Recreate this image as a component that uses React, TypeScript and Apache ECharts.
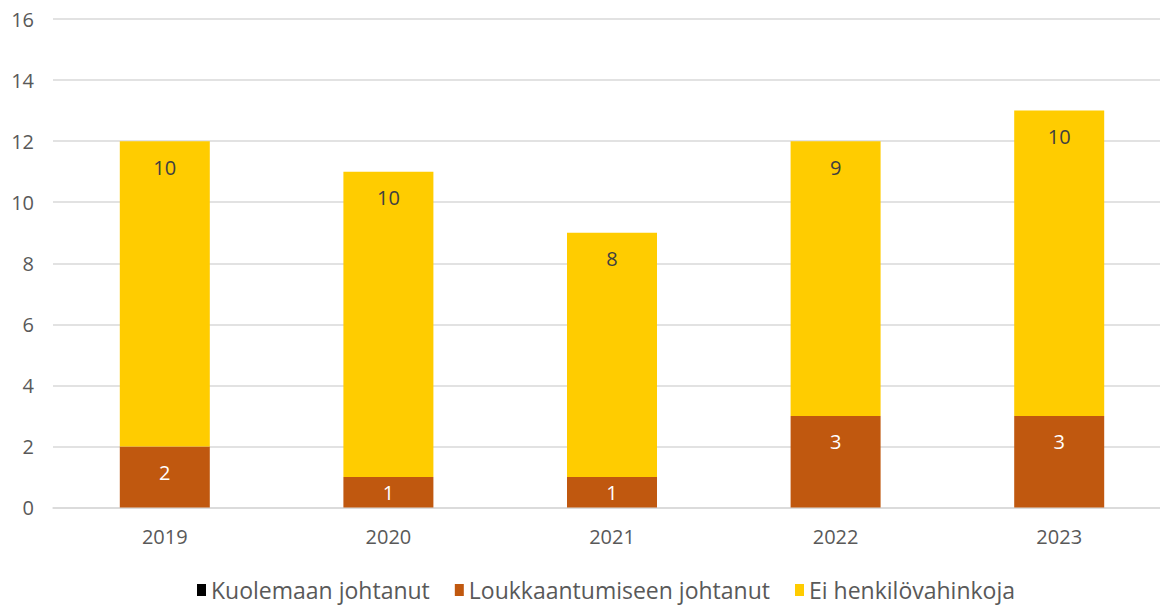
import React, { useEffect, useRef } from "react";
import * as echarts from "echarts";

const years = ["2019", "2020", "2021", "2022", "2023"];
const kuolemaan = [0, 0, 0, 0, 0];
const loukkaantumiseen = [2, 1, 1, 3, 3];
const eiHenkilo = [10, 10, 8, 9, 10];
const seriesNames = ["Kuolemaan johtanut", "Loukkaantumiseen johtanut", "Ei henkilövahinkoja"];

const FONT = "'Open Sans', sans-serif";

export default function App() {
  const ref = useRef<HTMLDivElement>(null);
  useEffect(() => {
    if (!ref.current) return;
    const chart = echarts.init(ref.current, undefined, { renderer: "svg" });
    const labelFor = (v: number, color: string) => ({
      show: true,
      position: v >= 2 ? "insideTop" : "inside",
      distance: 16,
      color,
      fontSize: 20,
      fontFamily: FONT,
    });
    chart.setOption({
      animation: false,
      backgroundColor: "#ffffff",
      textStyle: { fontFamily: FONT },
      grid: { left: 53, right: 0, top: 19, bottom: 97.5, containLabel: false },
      legend: {
        data: seriesNames,
        left: 197,
        top: 577,
        padding: 0,
        itemWidth: 9,
        itemHeight: 12,
        itemGap: 25,
        icon: "rect",
        textStyle: { fontSize: 23, lineHeight: 26, color: "#595959", fontFamily: FONT, padding: [0, 0, 0, 0] },
      },
      xAxis: {
        type: "category",
        data: years,
        axisLine: { show: true, lineStyle: { color: "#D9D9D9", width: 1.5 } },
        axisTick: { show: false },
        axisLabel: { color: "#595959", fontSize: 20, margin: 19, fontFamily: FONT },
      },
      yAxis: {
        type: "value",
        min: 0,
        max: 16,
        interval: 2,
        axisLine: { show: false },
        axisTick: { show: false },
        splitLine: { lineStyle: { color: "#D9D9D9", width: 1.5 } },
        axisLabel: { color: "#595959", fontSize: 20, margin: 19, fontFamily: FONT },
      },
      series: [
        {
          name: seriesNames[0],
          type: "bar",
          stack: "a",
          barWidth: 90,
          itemStyle: { color: "#000000" },
          data: kuolemaan,
        },
        {
          name: seriesNames[1],
          type: "bar",
          stack: "a",
          barWidth: 90,
          itemStyle: { color: "#C0580F" },
          data: loukkaantumiseen.map((v) => ({ value: v, label: labelFor(v, "#ffffff") })),
        },
        {
          name: seriesNames[2],
          type: "bar",
          stack: "a",
          barWidth: 90,
          itemStyle: { color: "#FFCC00" },
          data: eiHenkilo.map((v) => ({ value: v, label: labelFor(v, "#404040") })),
        },
      ],
    });
    return () => chart.dispose();
  }, []);
  return (
    <div
      ref={ref}
      style={{ position: "fixed", left: 0, top: 0, width: 1171, height: 605 }}
    />
  );
}
